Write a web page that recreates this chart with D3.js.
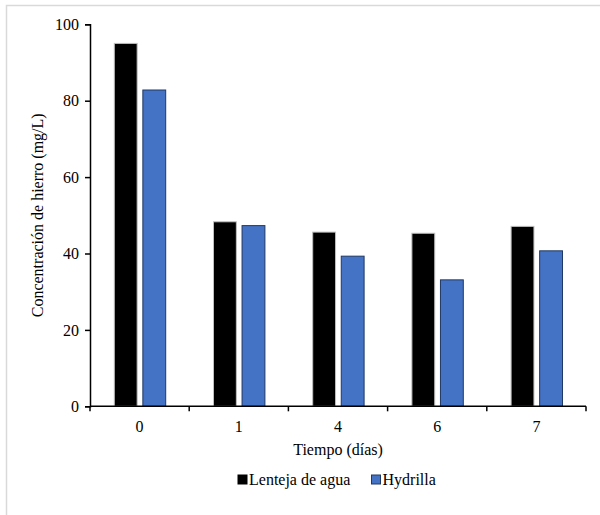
<!DOCTYPE html>
<html>
<head>
<meta charset="utf-8">
<script src="https://cdn.jsdelivr.net/npm/d3@7"></script>
<style>
  html, body { margin: 0; padding: 0; background: #fff; }
  svg { display: block; }
  svg text { font-family: "Liberation Serif", "Times New Roman", "DejaVu Serif", serif !important; fill: #000; }
</style>
</head>
<body>
<svg id="chart" width="600" height="515" font-family="Liberation Serif, serif"></svg>
<script>
const categories = ["0", "1", "4", "6", "7"];
const seriesNames = ["Lenteja de agua", "Hydrilla"];
const lentejaValues = [95.0, 48.3, 45.6, 45.3, 47.1];
const hydrillaValues = [82.8, 47.3, 39.3, 33.1, 40.7];
const yTicks = [0, 20, 40, 60, 80, 100];
const xTitle = "Tiempo (días)";
const yTitle = "Concentración de hierro (mg/L)";

(function () {
const FONT = "'Liberation Serif', 'Times New Roman', serif";
const colors = { "Lenteja de agua": "#000000", "Hydrilla": "#4472c4" };
const strokes = { "Lenteja de agua": "#bfbfbf", "Hydrilla": "#203864" };

const data = categories.map((c, i) => ({
  cat: c,
  values: [
    { name: seriesNames[0], value: lentejaValues[i] },
    { name: seriesNames[1], value: hydrillaValues[i] }
  ]
}));

const svg = d3.select("#chart");

// outer frame
svg.append("rect")
  .attr("x", 6.5).attr("y", 5.5)
  .attr("width", 600).attr("height", 520)
  .attr("fill", "none")
  .attr("stroke", "#d9d9d9")
  .attr("stroke-width", 1.5);

const pLeft = 90, pRight = 586, pTop = 24.3, pBottom = 406.3;

const x = d3.scaleBand().domain(categories).range([pLeft, pRight]).paddingInner(0).paddingOuter(0);
const xs = d3.scaleBand().domain(seriesNames).range([24.3, 75.7]).paddingInner(0.2).paddingOuter(0);
const y = d3.scaleLinear().domain([0, 100]).range([pBottom, pTop]);

// bars
const groups = svg.append("g").selectAll("g")
  .data(data).join("g")
  .attr("transform", d => `translate(${x(d.cat)},0)`);

groups.selectAll("rect")
  .data(d => d.values)
  .join("rect")
  .attr("x", d => xs(d.name))
  .attr("y", d => y(d.value))
  .attr("width", xs.bandwidth())
  .attr("height", d => y(0) - y(d.value))
  .attr("fill", d => colors[d.name])
  .attr("stroke", d => strokes[d.name])
  .attr("stroke-width", 1);

// y axis
const yAxis = svg.append("g")
  .attr("transform", `translate(${pLeft},0)`)
  .call(d3.axisLeft(y).tickValues(yTicks).tickSize(5).tickSizeOuter(5).tickPadding(6));
yAxis.attr("font-family", FONT).attr("font-size", 16);
yAxis.select(".domain").attr("stroke", "#000").attr("stroke-width", 1.5);
yAxis.selectAll(".tick line").attr("stroke", "#000").attr("stroke-width", 1.5);
yAxis.selectAll("text").style("font-size", "16px").style("font-family", FONT);

// x axis
const xTickScale = d3.scalePoint().domain(d3.range(categories.length + 1)).range([pLeft, pRight]);
const xAxis = svg.append("g")
  .attr("transform", `translate(0,${pBottom})`);
xAxis.append("line")
  .attr("x1", pLeft).attr("x2", pRight)
  .attr("y1", 0).attr("y2", 0)
  .attr("stroke", "#000").attr("stroke-width", 1.5);
xAxis.selectAll("line.tk")
  .data(xTickScale.domain()).join("line")
  .attr("class", "tk")
  .attr("x1", d => xTickScale(d)).attr("x2", d => xTickScale(d))
  .attr("y1", 0).attr("y2", 5)
  .attr("stroke", "#000").attr("stroke-width", 1.5);
xAxis.selectAll("text.lbl")
  .data(categories).join("text")
  .attr("class", "lbl")
  .attr("x", d => x(d) + x.bandwidth() / 2)
  .attr("y", 26)
  .attr("text-anchor", "middle")
  .style("font-size", "16px")
  .style("font-family", FONT)
  .text(d => d);

// axis titles
svg.append("text")
  .attr("x", (pLeft + pRight) / 2)
  .attr("y", 455)
  .attr("text-anchor", "middle")
  .style("font-size", "16px")
  .style("font-family", FONT)
  .text(xTitle);

svg.append("text")
  .attr("transform", `translate(43,${(pTop + pBottom) / 2}) rotate(-90)`)
  .attr("text-anchor", "middle")
  .style("font-size", "16px")
  .style("font-family", FONT)
  .text(yTitle);

// legend
const legendItems = [
  { name: seriesNames[0], x: 238 },
  { name: seriesNames[1], x: 371.5 }
];
const lg = svg.append("g").selectAll("g")
  .data(legendItems).join("g")
  .attr("transform", d => `translate(${d.x},475)`);
lg.append("rect")
  .attr("x", 0).attr("y", 0)
  .attr("width", 9).attr("height", 9)
  .attr("fill", d => colors[d.name])
  .attr("stroke", d => d.name === "Hydrilla" ? strokes[d.name] : "#000")
  .attr("stroke-width", 1);
lg.append("text")
  .attr("x", 11).attr("y", 10)
  .style("font-size", "16px")
  .style("font-family", FONT)
  .text(d => d.name);
})();
</script>
</body>
</html>
